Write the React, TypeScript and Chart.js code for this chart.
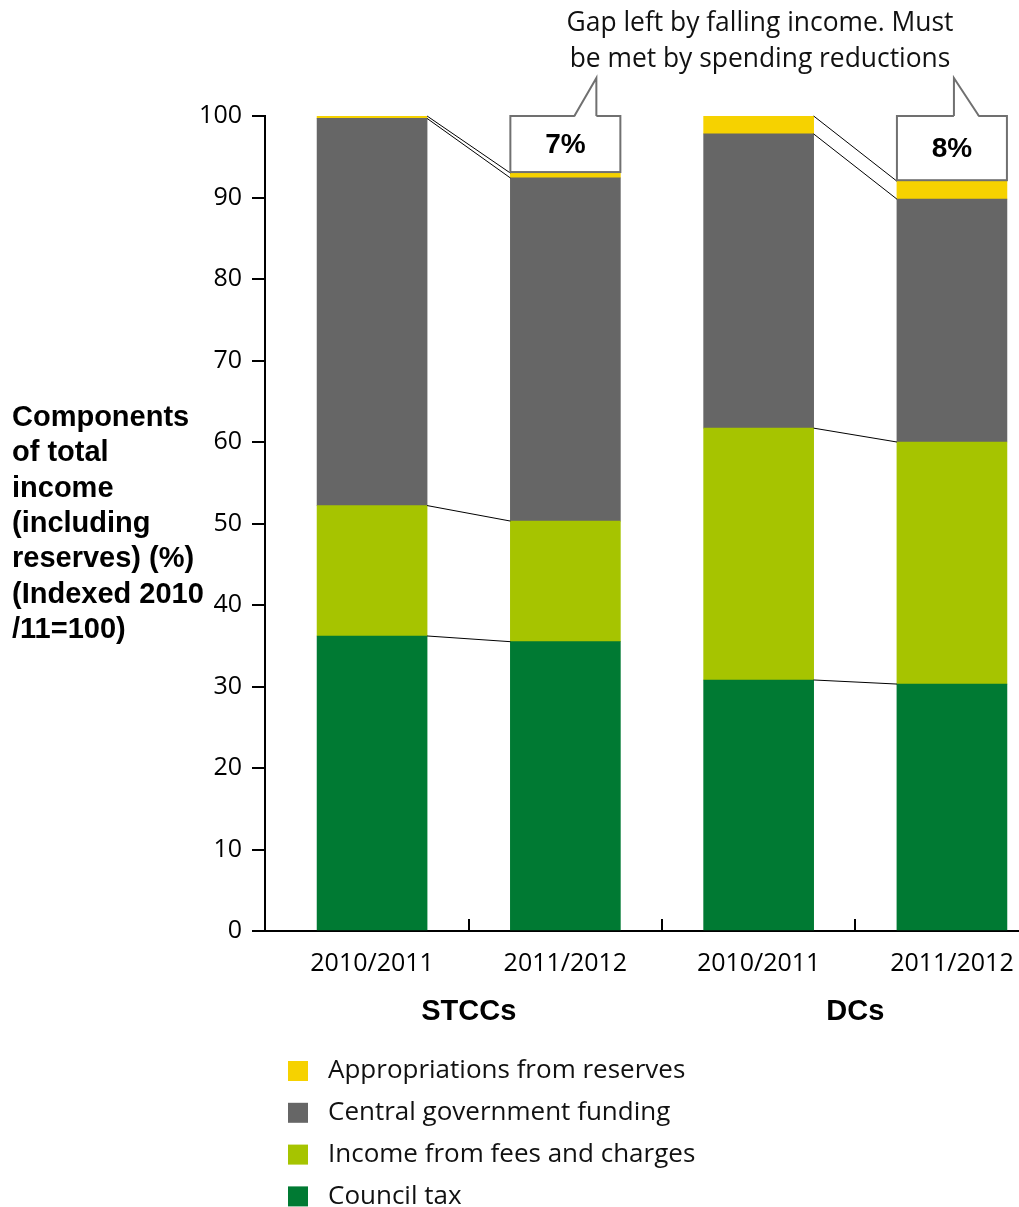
import React, { useEffect, useRef } from "react";
import { Chart, registerables } from "chart.js";

Chart.register(...registerables);

// Bars, left to right
const categories = ["2010/2011", "2011/2012", "2010/2011", "2011/2012"];
const groups = ["STCCs", "DCs"];

// Components of total income (% of 2010/11 total), one value per bar
const councilTax = [36.2, 35.5, 30.8, 30.3];
const feesAndCharges = [16.0, 14.8, 30.9, 29.7];
const centralGovernment = [47.5, 42.1, 36.1, 29.8];
const reserves = [0.3, 0.6, 2.2, 2.2];

const seriesLabels = [
  "Council tax",
  "Income from fees and charges",
  "Central government funding",
  "Appropriations from reserves",
];
const seriesColours = ["#007a33", "#a6c400", "#666666", "#f6d200"];

const yTickValues = [0, 10, 20, 30, 40, 50, 60, 70, 80, 90, 100];

const yTitleLines = [
  "Components",
  "of total",
  "income",
  "(including",
  "reserves) (%)",
  "(Indexed 2010",
  "/11=100)",
];
const noteLines = ["Gap left by falling income. Must", "be met by spending reductions"];

// Bars carrying a "gap" callout, with the tail shape of each callout
const calloutBars = [1, 3];
const calloutTails = [
  { baseLeft: 64, baseRight: 86, tip: 86 },
  { baseLeft: 57, baseRight: 82, tip: 57 },
];

const SANS = "'Open Sans', 'Noto Sans', sans-serif";
const BOLD = "'Liberation Sans', Arial, sans-serif";

const seriesData = [councilTax, feesAndCharges, centralGovernment, reserves];

const overlayPlugin = {
  id: "incomeOverlay",
  afterDraw(chart: any) {
    const ctx: CanvasRenderingContext2D = chart.ctx;
    const xs = chart.scales.x;
    const ys = chart.scales.y;
    const metas = chart.data.datasets.map((_: any, i: number) => chart.getDatasetMeta(i));
    const box = (d: number, i: number) => {
      const p = metas[d].data[i].getProps(["x", "y", "base", "width"], true);
      return {
        left: p.x - p.width / 2,
        right: p.x + p.width / 2,
        top: Math.min(p.y, p.base),
        cx: p.x,
      };
    };

    ctx.save();

    // connector lines between the two years of each group
    ctx.strokeStyle = "#000";
    ctx.lineWidth = 1;
    for (let g = 0; g < groups.length; g++) {
      const a = g * 2;
      const b = a + 1;
      for (let d = 0; d < metas.length; d++) {
        const A = box(d, a);
        const B = box(d, b);
        ctx.beginPath();
        ctx.moveTo(A.right, A.top);
        ctx.lineTo(B.left, B.top);
        ctx.stroke();
      }
    }

    // short separator ticks on the category axis
    ctx.lineWidth = 2;
    for (let i = 1; i < categories.length; i++) {
      const px = Math.round(xs.getPixelForValue(i + 0.5));
      ctx.beginPath();
      ctx.moveTo(px, ys.bottom);
      ctx.lineTo(px, ys.bottom - 12);
      ctx.stroke();
    }

    // callouts showing the gap below 100
    calloutBars.forEach((bar, k) => {
      const top = box(metas.length - 1, bar);
      const total = seriesData.reduce((s, arr) => s + arr[bar], 0);
      const label = Math.round(100 - total) + "%";
      const bx0 = top.left;
      const bx1 = top.right;
      const by0 = ys.getPixelForValue(100);
      const by1 = top.top - 1;
      ctx.fillStyle = "#fff";
      ctx.strokeStyle = "#707070";
      ctx.lineWidth = 2;
      ctx.fillRect(bx0, by0, bx1 - bx0, by1 - by0);
      ctx.strokeRect(bx0, by0, bx1 - bx0, by1 - by0);
      const t = calloutTails[k];
      const tipY = 78;
      ctx.beginPath();
      ctx.moveTo(bx0 + t.baseLeft, by0 + 1.5);
      ctx.lineTo(bx0 + t.tip, tipY);
      ctx.lineTo(bx0 + t.baseRight, by0 + 1.5);
      ctx.closePath();
      ctx.fill();
      ctx.beginPath();
      ctx.moveTo(bx0 + t.baseLeft, by0);
      ctx.lineTo(bx0 + t.tip, tipY);
      ctx.lineTo(bx0 + t.baseRight, by0);
      ctx.stroke();
      ctx.fillStyle = "#000";
      ctx.font = `bold 28px ${BOLD}`;
      ctx.textAlign = "center";
      ctx.textBaseline = "middle";
      ctx.fillText(label, (bx0 + bx1) / 2, (by0 + by1) / 2 + 1);
    });

    // note above the callouts
    ctx.fillStyle = "#111";
    ctx.font = `26.4px ${SANS}`;
    ctx.textAlign = "center";
    ctx.textBaseline = "middle";
    noteLines.forEach((line, i) => ctx.fillText(line, 760, 23 + i * 36));

    // value axis title
    ctx.fillStyle = "#000";
    ctx.font = `bold 29px ${BOLD}`;
    ctx.textAlign = "left";
    yTitleLines.forEach((line, i) => ctx.fillText(line, 12, 418 + i * 35.3));

    // group labels under the year labels
    ctx.textAlign = "center";
    groups.forEach((g, i) => {
      const cx = (box(0, i * 2).cx + box(0, i * 2 + 1).cx) / 2;
      ctx.fillText(g, cx, 1012);
    });

    // legend, top series first
    ctx.font = `26px ${SANS}`;
    ctx.textAlign = "left";
    const order = [3, 2, 1, 0];
    order.forEach((d, row) => {
      const cy = 1071 + row * 41.8;
      ctx.fillStyle = seriesColours[d];
      ctx.fillRect(288, cy - 10, 20, 20);
      ctx.fillStyle = "#111";
      ctx.fillText(seriesLabels[d], 328, cy);
    });

    ctx.restore();
  },
};

export default function App() {
  const canvasRef = useRef<HTMLCanvasElement | null>(null);

  useEffect(() => {
    document.body.style.margin = "0";
    const canvas = canvasRef.current;
    if (!canvas) return;

    const datasets = seriesData.map((values, d) => ({
      label: seriesLabels[d],
      data: values.map((v, i) => ({ x: i + 1, y: v })),
      backgroundColor: seriesColours[d],
      borderWidth: 0,
      barThickness: 110,
    }));

    const chart = new Chart(canvas, {
      type: "bar",
      data: { datasets },
      plugins: [overlayPlugin],
      options: {
        responsive: false,
        animation: false,
        layout: { padding: { top: 116, left: 0, right: 0, bottom: 0 } },
        plugins: {
          legend: { display: false },
          tooltip: { enabled: false },
        },
        scales: {
          x: {
            type: "linear",
            min: 0.446,
            max: 4.347,
            stacked: true,
            offset: false,
            afterBuildTicks: (s: any) => {
              s.ticks = categories.map((_, i) => ({ value: i + 1 }));
            },
            afterFit: (s: any) => {
              s.height = 276;
              s.paddingLeft = 0;
              s.paddingRight = 0;
            },
            grid: { display: false, drawTicks: false },
            border: { display: true, color: "#000", width: 2 },
            ticks: {
              autoSkip: false,
              maxRotation: 0,
              padding: 18,
              color: "#000",
              font: { family: SANS, size: 25 },
              callback: (_v: any, index: number) => categories[index] ?? "",
            },
          },
          y: {
            stacked: true,
            min: 0,
            max: 100,
            afterBuildTicks: (s: any) => {
              s.ticks = yTickValues.map((v) => ({ value: v }));
            },
            afterFit: (s: any) => {
              s.width = 265;
            },
            grid: {
              drawOnChartArea: false,
              drawTicks: true,
              tickLength: 13,
              color: "#000",
              lineWidth: 2,
            },
            border: { display: true, color: "#000", width: 2 },
            ticks: {
              padding: 10,
              color: "#000",
              font: { family: SANS, size: 25 },
            },
          },
        },
      } as any,
    });

    return () => chart.destroy();
  }, []);

  return (
    <div style={{ width: 1019, height: 1207 }}>
      <canvas ref={canvasRef} width={1019} height={1207} style={{ display: "block" }} />
    </div>
  );
}
